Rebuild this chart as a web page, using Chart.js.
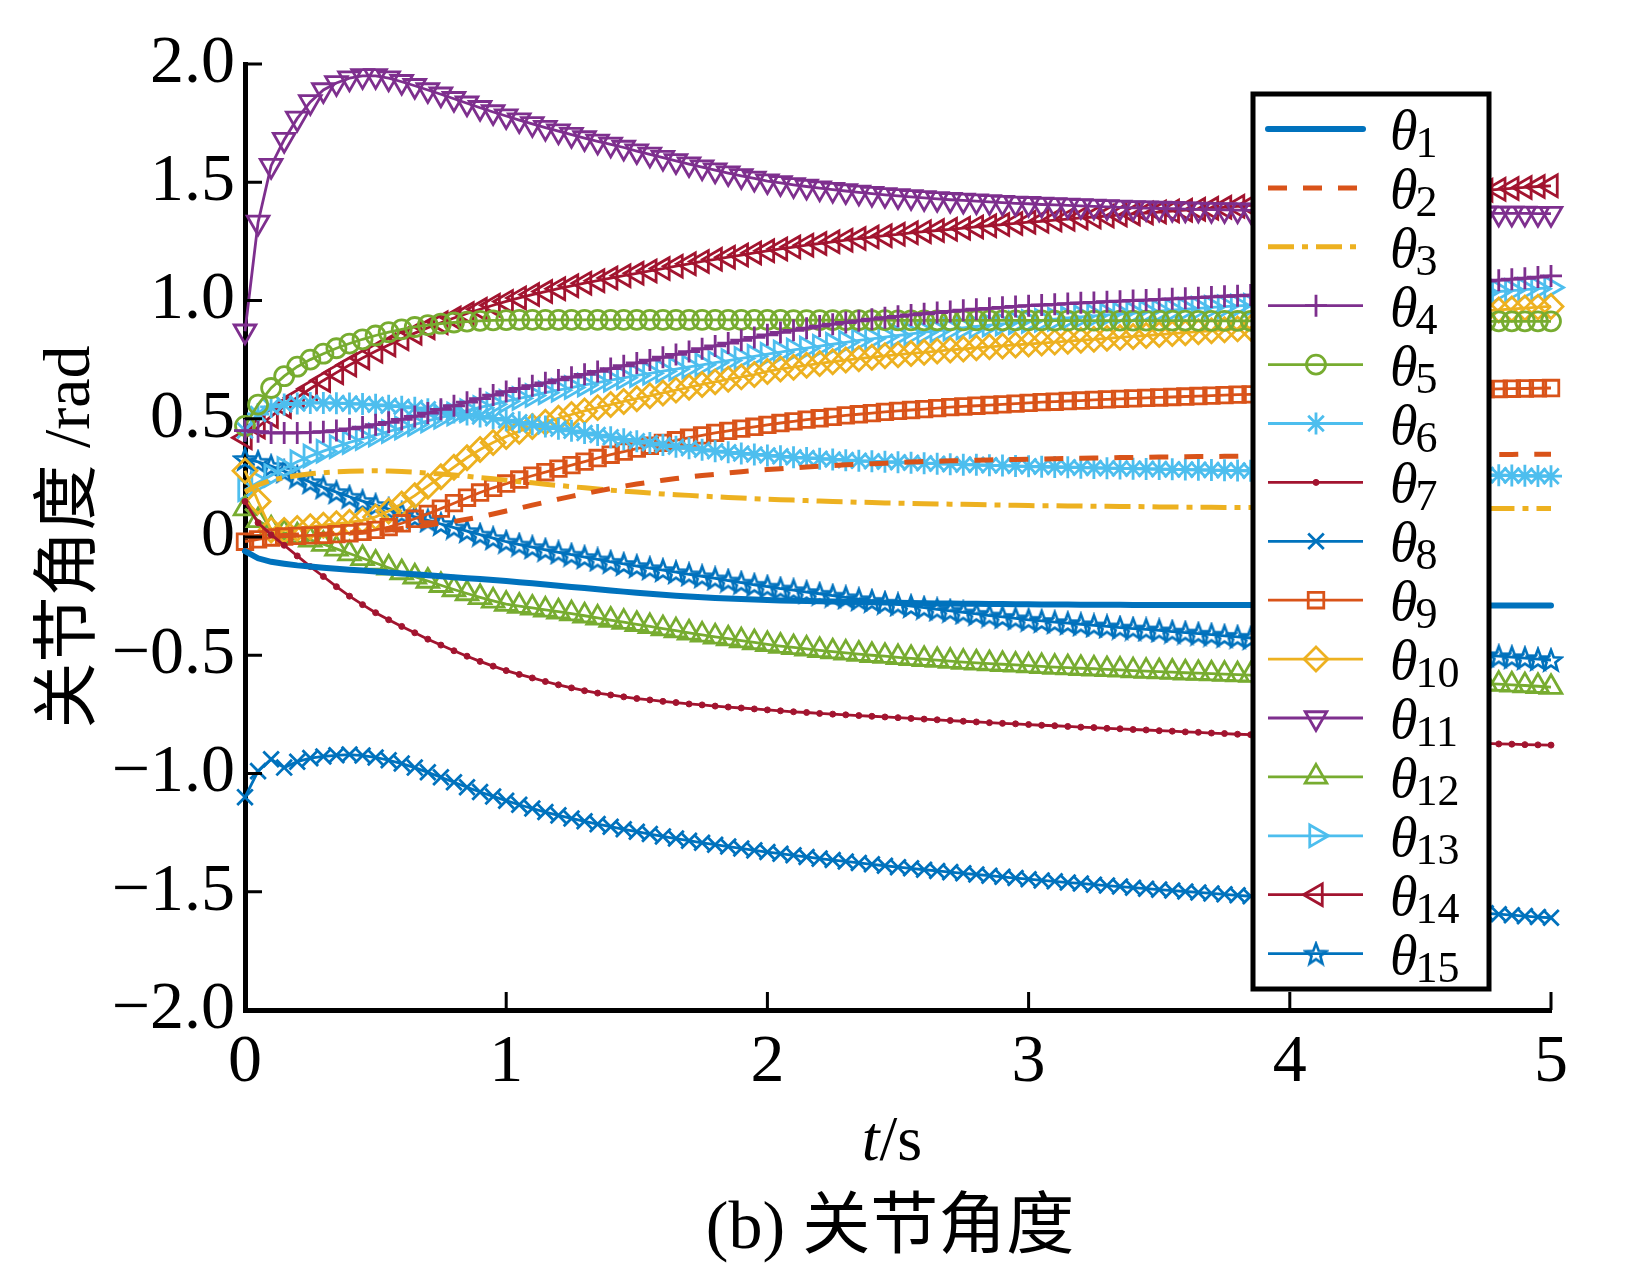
<!DOCTYPE html>
<html>
<head>
<meta charset="utf-8">
<script src="https://cdn.jsdelivr.net/npm/chart.js@4.4.1/dist/chart.umd.min.js"></script>
<style>
  html, body { margin: 0; padding: 0; background: #fff; }
  #wrap { width: 1635px; height: 1276px; }
</style>
</head>
<body>
<div id="wrap"><canvas id="chart" width="1635" height="1276"></canvas></div>
<script>
// time samples (s)
const timeS = [
  0, 0.05, 0.1, 0.15, 0.2, 0.25, 0.3, 0.35, 0.4, 0.45,
  0.5, 0.55, 0.6, 0.65, 0.7, 0.75, 0.8, 0.85, 0.9, 0.95,
  1, 1.05, 1.1, 1.15, 1.2, 1.25, 1.3, 1.35, 1.4, 1.45,
  1.5, 1.55, 1.6, 1.65, 1.7, 1.75, 1.8, 1.85, 1.9, 1.95,
  2, 2.05, 2.1, 2.15, 2.2, 2.25, 2.3, 2.35, 2.4, 2.45,
  2.5, 2.55, 2.6, 2.65, 2.7, 2.75, 2.8, 2.85, 2.9, 2.95,
  3, 3.05, 3.1, 3.15, 3.2, 3.25, 3.3, 3.35, 3.4, 3.45,
  3.5, 3.55, 3.6, 3.65, 3.7, 3.75, 3.8, 3.85, 3.9, 3.95,
  4, 4.05, 4.1, 4.15, 4.2, 4.25, 4.3, 4.35, 4.4, 4.45,
  4.5, 4.55, 4.6, 4.65, 4.7, 4.75, 4.8, 4.85, 4.9, 4.95,
  5
];

// joint angles (rad)
const theta1 = [
  -0.06, -0.09, -0.105, -0.113, -0.12, -0.125, -0.13, -0.134, -0.138, -0.142,
  -0.146, -0.15, -0.154, -0.158, -0.162, -0.166, -0.17, -0.174, -0.178, -0.182,
  -0.186, -0.191, -0.196, -0.201, -0.206, -0.211, -0.216, -0.221, -0.226, -0.231,
  -0.236, -0.24, -0.244, -0.248, -0.252, -0.255, -0.258, -0.26, -0.262, -0.264,
  -0.266, -0.268, -0.27, -0.271, -0.272, -0.273, -0.274, -0.275, -0.276, -0.277,
  -0.278, -0.279, -0.28, -0.281, -0.281, -0.282, -0.282, -0.283, -0.283, -0.284,
  -0.284, -0.285, -0.285, -0.285, -0.286, -0.286, -0.286, -0.286, -0.287, -0.287,
  -0.287, -0.287, -0.287, -0.288, -0.288, -0.288, -0.288, -0.288, -0.288, -0.288,
  -0.288, -0.288, -0.289, -0.289, -0.289, -0.289, -0.289, -0.289, -0.289, -0.289,
  -0.289, -0.289, -0.289, -0.29, -0.29, -0.29, -0.29, -0.29, -0.29, -0.29,
  -0.29
];
const theta2 = [
  0, 0.002, 0.004, 0.006, 0.008, 0.01, 0.012, 0.014, 0.017, 0.02,
  0.025, 0.03, 0.036, 0.043, 0.05, 0.058, 0.066, 0.075, 0.085, 0.097,
  0.11, 0.122, 0.135, 0.147, 0.16, 0.172, 0.183, 0.194, 0.205, 0.215,
  0.224, 0.232, 0.24, 0.247, 0.254, 0.26, 0.265, 0.271, 0.276, 0.281,
  0.285, 0.289, 0.293, 0.296, 0.299, 0.302, 0.305, 0.307, 0.31, 0.312,
  0.315, 0.317, 0.319, 0.32, 0.322, 0.323, 0.325, 0.326, 0.327, 0.328,
  0.329, 0.33, 0.331, 0.332, 0.333, 0.334, 0.335, 0.336, 0.336, 0.337,
  0.338, 0.338, 0.339, 0.34, 0.34, 0.341, 0.341, 0.342, 0.342, 0.343,
  0.343, 0.344, 0.344, 0.345, 0.345, 0.345, 0.346, 0.346, 0.346, 0.347,
  0.347, 0.347, 0.348, 0.348, 0.348, 0.349, 0.349, 0.349, 0.35, 0.35,
  0.35
];
const theta3 = [
  0.19, 0.22, 0.24, 0.251, 0.26, 0.267, 0.272, 0.276, 0.278, 0.279,
  0.28, 0.279, 0.277, 0.274, 0.27, 0.266, 0.262, 0.257, 0.251, 0.246,
  0.24, 0.234, 0.229, 0.223, 0.218, 0.213, 0.208, 0.203, 0.198, 0.194,
  0.19, 0.186, 0.182, 0.179, 0.176, 0.173, 0.17, 0.167, 0.165, 0.162,
  0.16, 0.158, 0.156, 0.154, 0.152, 0.15, 0.149, 0.147, 0.146, 0.144,
  0.143, 0.142, 0.141, 0.14, 0.139, 0.138, 0.137, 0.136, 0.135, 0.134,
  0.133, 0.132, 0.132, 0.131, 0.131, 0.13, 0.13, 0.129, 0.129, 0.128,
  0.127, 0.127, 0.126, 0.126, 0.126, 0.125, 0.125, 0.125, 0.124, 0.124,
  0.123, 0.123, 0.123, 0.123, 0.122, 0.122, 0.122, 0.122, 0.122, 0.121,
  0.121, 0.121, 0.121, 0.121, 0.121, 0.12, 0.12, 0.12, 0.12, 0.12,
  0.12
];
const theta4 = [
  0.45, 0.445, 0.44, 0.44, 0.44, 0.442, 0.445, 0.45, 0.457, 0.465,
  0.475, 0.485, 0.497, 0.51, 0.524, 0.54, 0.555, 0.57, 0.585, 0.6,
  0.615, 0.628, 0.64, 0.652, 0.664, 0.676, 0.688, 0.7, 0.712, 0.724,
  0.736, 0.748, 0.76, 0.772, 0.784, 0.796, 0.808, 0.82, 0.832, 0.844,
  0.855, 0.865, 0.874, 0.883, 0.892, 0.9, 0.907, 0.914, 0.921, 0.927,
  0.933, 0.939, 0.944, 0.949, 0.954, 0.959, 0.963, 0.967, 0.971, 0.975,
  0.978, 0.981, 0.984, 0.987, 0.99, 0.992, 0.995, 0.997, 1.0, 1.002,
  1.005, 1.007, 1.01, 1.012, 1.015, 1.018, 1.02, 1.023, 1.026, 1.028,
  1.031, 1.034, 1.037, 1.04, 1.043, 1.046, 1.049, 1.052, 1.055, 1.058,
  1.062, 1.066, 1.07, 1.074, 1.078, 1.082, 1.086, 1.09, 1.094, 1.099,
  1.104
];
const theta5 = [
  0.47, 0.56, 0.63, 0.68, 0.72, 0.75, 0.775, 0.798, 0.818, 0.836,
  0.852, 0.866, 0.878, 0.888, 0.896, 0.902, 0.907, 0.911, 0.914, 0.916,
  0.917, 0.918, 0.918, 0.918, 0.918, 0.918, 0.918, 0.918, 0.918, 0.918,
  0.918, 0.918, 0.918, 0.918, 0.918, 0.918, 0.918, 0.918, 0.918, 0.918,
  0.918, 0.918, 0.917, 0.917, 0.917, 0.917, 0.917, 0.917, 0.917, 0.917,
  0.916, 0.916, 0.916, 0.916, 0.916, 0.916, 0.916, 0.916, 0.916, 0.916,
  0.916, 0.916, 0.915, 0.915, 0.915, 0.915, 0.915, 0.915, 0.915, 0.915,
  0.915, 0.915, 0.915, 0.914, 0.914, 0.914, 0.914, 0.914, 0.914, 0.914,
  0.914, 0.914, 0.914, 0.913, 0.913, 0.913, 0.913, 0.913, 0.913, 0.913,
  0.913, 0.913, 0.913, 0.913, 0.912, 0.912, 0.912, 0.912, 0.912, 0.912,
  0.912
];
const theta6 = [
  0.45, 0.52, 0.55, 0.56, 0.565, 0.567, 0.567, 0.566, 0.564, 0.562,
  0.559, 0.555, 0.551, 0.546, 0.54, 0.533, 0.526, 0.518, 0.51, 0.502,
  0.494, 0.485, 0.476, 0.467, 0.458, 0.449, 0.44, 0.431, 0.422, 0.413,
  0.405, 0.397, 0.389, 0.382, 0.375, 0.369, 0.363, 0.358, 0.353, 0.349,
  0.345, 0.341, 0.337, 0.334, 0.331, 0.328, 0.325, 0.322, 0.32, 0.318,
  0.316, 0.314, 0.312, 0.31, 0.308, 0.306, 0.305, 0.303, 0.302, 0.3,
  0.299, 0.297, 0.296, 0.295, 0.293, 0.292, 0.291, 0.29, 0.289, 0.288,
  0.287, 0.286, 0.285, 0.284, 0.283, 0.282, 0.281, 0.28, 0.279, 0.278,
  0.277, 0.276, 0.275, 0.274, 0.273, 0.272, 0.271, 0.27, 0.269, 0.268,
  0.267, 0.266, 0.265, 0.264, 0.263, 0.262, 0.261, 0.26, 0.259, 0.258,
  0.257
];
const theta7 = [
  0.15, 0.06, 0.01, -0.035, -0.08, -0.125, -0.167, -0.21, -0.25, -0.286,
  -0.32, -0.35, -0.378, -0.405, -0.432, -0.457, -0.481, -0.504, -0.526, -0.546,
  -0.565, -0.581, -0.596, -0.611, -0.625, -0.638, -0.65, -0.66, -0.668, -0.676,
  -0.683, -0.689, -0.695, -0.7, -0.706, -0.71, -0.715, -0.719, -0.723, -0.727,
  -0.731, -0.735, -0.739, -0.742, -0.746, -0.749, -0.752, -0.755, -0.758, -0.761,
  -0.764, -0.767, -0.77, -0.773, -0.776, -0.779, -0.782, -0.785, -0.788, -0.79,
  -0.793, -0.796, -0.798, -0.801, -0.804, -0.806, -0.809, -0.811, -0.814, -0.816,
  -0.819, -0.821, -0.824, -0.826, -0.829, -0.831, -0.834, -0.836, -0.838, -0.841,
  -0.843, -0.845, -0.848, -0.85, -0.852, -0.854, -0.856, -0.858, -0.86, -0.862,
  -0.864, -0.866, -0.868, -0.87, -0.871, -0.873, -0.875, -0.876, -0.878, -0.879,
  -0.88
];
const theta8 = [
  -1.1, -0.99, -0.94, -0.975, -0.95, -0.935, -0.928, -0.923, -0.92, -0.924,
  -0.932, -0.944, -0.958, -0.975, -0.995, -1.016, -1.037, -1.058, -1.078, -1.097,
  -1.115, -1.132, -1.148, -1.163, -1.177, -1.19, -1.202, -1.214, -1.225, -1.236,
  -1.246, -1.256, -1.266, -1.275, -1.284, -1.293, -1.301, -1.309, -1.317, -1.325,
  -1.332, -1.339, -1.346, -1.353, -1.36, -1.366, -1.372, -1.378, -1.384, -1.39,
  -1.396, -1.401, -1.407, -1.412, -1.417, -1.422, -1.427, -1.432, -1.437, -1.442,
  -1.447, -1.452, -1.456, -1.461, -1.465, -1.47, -1.474, -1.478, -1.483, -1.487,
  -1.491, -1.495, -1.499, -1.503, -1.507, -1.511, -1.515, -1.519, -1.523, -1.527,
  -1.531, -1.535, -1.539, -1.543, -1.547, -1.551, -1.555, -1.559, -1.563, -1.567,
  -1.571, -1.575, -1.579, -1.583, -1.587, -1.591, -1.595, -1.599, -1.603, -1.607,
  -1.61
];
const theta9 = [
  -0.02, -0.01, -0.002, 0.002, 0.005, 0.007, 0.009, 0.012, 0.016, 0.022,
  0.03, 0.042, 0.058, 0.077, 0.098, 0.12, 0.143, 0.166, 0.188, 0.208,
  0.226, 0.243, 0.259, 0.274, 0.289, 0.304, 0.319, 0.334, 0.348, 0.361,
  0.374, 0.386, 0.398, 0.409, 0.42, 0.43, 0.44, 0.449, 0.458, 0.466,
  0.474, 0.482, 0.489, 0.496, 0.502, 0.508, 0.514, 0.519, 0.524, 0.529,
  0.533, 0.537, 0.541, 0.545, 0.549, 0.552, 0.555, 0.558, 0.561, 0.564,
  0.567, 0.57, 0.572, 0.575, 0.577, 0.58, 0.582, 0.584, 0.586, 0.588,
  0.59, 0.592, 0.594, 0.596, 0.598, 0.6, 0.602, 0.603, 0.605, 0.607,
  0.608, 0.61, 0.611, 0.612, 0.614, 0.615, 0.616, 0.617, 0.618, 0.619,
  0.62, 0.621, 0.622, 0.623, 0.624, 0.625, 0.626, 0.627, 0.628, 0.629,
  0.63
];
const theta10 = [
  0.28, 0.15, 0.03, 0.028, 0.036, 0.043, 0.05, 0.056, 0.062, 0.07,
  0.085, 0.11, 0.14, 0.175, 0.215, 0.255, 0.295, 0.335, 0.37, 0.4,
  0.425, 0.447, 0.467, 0.485, 0.502, 0.518, 0.533, 0.547, 0.56, 0.573,
  0.585, 0.597, 0.609, 0.621, 0.633, 0.645, 0.656, 0.667, 0.677, 0.687,
  0.7, 0.71, 0.718, 0.726, 0.734, 0.741, 0.748, 0.754, 0.76, 0.766,
  0.771, 0.776, 0.781, 0.786, 0.791, 0.795, 0.8, 0.804, 0.808, 0.812,
  0.816, 0.82, 0.824, 0.828, 0.832, 0.836, 0.84, 0.844, 0.848, 0.852,
  0.856, 0.86, 0.864, 0.868, 0.872, 0.876, 0.88, 0.884, 0.888, 0.892,
  0.896, 0.9, 0.904, 0.908, 0.912, 0.916, 0.92, 0.924, 0.928, 0.932,
  0.936, 0.94, 0.944, 0.948, 0.952, 0.956, 0.96, 0.964, 0.968, 0.972,
  0.975
];
const theta11 = [
  0.87, 1.33, 1.57, 1.68, 1.77, 1.84, 1.89, 1.92, 1.94, 1.95,
  1.95, 1.94, 1.925, 1.908, 1.89, 1.872, 1.853, 1.834, 1.815, 1.797,
  1.78, 1.763, 1.747, 1.731, 1.716, 1.701, 1.687, 1.673, 1.66, 1.647,
  1.632, 1.618, 1.604, 1.59, 1.577, 1.564, 1.551, 1.539, 1.527, 1.516,
  1.505, 1.497, 1.489, 1.482, 1.475, 1.469, 1.463, 1.457, 1.452, 1.447,
  1.442, 1.438, 1.434, 1.43, 1.426, 1.423, 1.42, 1.417, 1.414, 1.411,
  1.409, 1.406, 1.404, 1.402, 1.4, 1.398, 1.396, 1.394, 1.392, 1.391,
  1.389, 1.388, 1.386, 1.385, 1.384, 1.383, 1.382, 1.381, 1.38, 1.379,
  1.378, 1.377, 1.376, 1.376, 1.375, 1.374, 1.374, 1.373, 1.372, 1.372,
  1.371, 1.371, 1.37, 1.37, 1.369, 1.369, 1.368, 1.368, 1.368, 1.367,
  1.367
];
const theta12 = [
  0.12, 0.07, 0.035, 0.018, 0.005, -0.012, -0.03, -0.05, -0.07, -0.09,
  -0.11, -0.13, -0.15, -0.168, -0.186, -0.204, -0.222, -0.239, -0.255, -0.27,
  -0.284, -0.292, -0.3, -0.308, -0.316, -0.324, -0.333, -0.342, -0.351, -0.36,
  -0.369, -0.378, -0.387, -0.396, -0.405, -0.414, -0.422, -0.43, -0.438, -0.446,
  -0.454, -0.461, -0.467, -0.473, -0.479, -0.485, -0.49, -0.495, -0.5, -0.504,
  -0.509, -0.513, -0.517, -0.521, -0.525, -0.529, -0.532, -0.535, -0.538, -0.541,
  -0.544, -0.547, -0.55, -0.552, -0.555, -0.557, -0.56, -0.562, -0.565, -0.567,
  -0.569, -0.571, -0.574, -0.576, -0.578, -0.58, -0.582, -0.584, -0.586, -0.588,
  -0.59, -0.592, -0.594, -0.596, -0.598, -0.6, -0.602, -0.604, -0.606, -0.608,
  -0.61, -0.612, -0.614, -0.616, -0.618, -0.62, -0.622, -0.625, -0.628, -0.631,
  -0.635
];
const theta13 = [
  0.2, 0.23, 0.26, 0.29, 0.318, 0.342, 0.363, 0.382, 0.4, 0.416,
  0.431, 0.446, 0.461, 0.476, 0.491, 0.506, 0.52, 0.534, 0.548, 0.561,
  0.574, 0.586, 0.598, 0.61, 0.621, 0.632, 0.643, 0.653, 0.663, 0.673,
  0.683, 0.692, 0.701, 0.71, 0.719, 0.728, 0.737, 0.746, 0.755, 0.764,
  0.773, 0.782, 0.791, 0.799, 0.807, 0.815, 0.823, 0.831, 0.838, 0.845,
  0.852, 0.859, 0.866, 0.872, 0.878, 0.884, 0.89, 0.896, 0.901, 0.906,
  0.911, 0.916, 0.921, 0.926, 0.931, 0.935, 0.939, 0.943, 0.947, 0.951,
  0.955, 0.959, 0.963, 0.967, 0.971, 0.974, 0.977, 0.98, 0.983, 0.986,
  0.989, 0.992, 0.995, 0.998, 1.001, 1.004, 1.007, 1.01, 1.013, 1.016,
  1.019, 1.022, 1.025, 1.028, 1.031, 1.034, 1.038, 1.042, 1.046, 1.05,
  1.055
];
const theta14 = [
  0.42, 0.465, 0.51, 0.552, 0.59, 0.627, 0.662, 0.695, 0.727, 0.757,
  0.785, 0.812, 0.838, 0.862, 0.885, 0.906, 0.926, 0.945, 0.963, 0.98,
  0.996, 1.011, 1.025, 1.038, 1.05, 1.062, 1.073, 1.084, 1.095, 1.105,
  1.115, 1.125, 1.135, 1.145, 1.155, 1.165, 1.174, 1.183, 1.192, 1.201,
  1.21, 1.218, 1.226, 1.234, 1.241, 1.248, 1.255, 1.262, 1.268, 1.274,
  1.28, 1.286, 1.291, 1.296, 1.301, 1.306, 1.311, 1.316, 1.321, 1.326,
  1.331, 1.335, 1.34, 1.344, 1.349, 1.353, 1.357, 1.362, 1.366, 1.37,
  1.374, 1.378, 1.382, 1.386, 1.39, 1.394, 1.398, 1.402, 1.406, 1.41,
  1.413, 1.417, 1.421, 1.424, 1.428, 1.431, 1.435, 1.438, 1.442, 1.445,
  1.449, 1.452, 1.456, 1.459, 1.463, 1.466, 1.47, 1.474, 1.478, 1.482,
  1.485
];
const theta15 = [
  0.33, 0.318, 0.3, 0.278, 0.255, 0.232, 0.21, 0.19, 0.17, 0.152,
  0.135, 0.118, 0.1, 0.085, 0.07, 0.055, 0.04, 0.025, 0.01, -0.005,
  -0.02, -0.032, -0.043, -0.054, -0.065, -0.075, -0.085, -0.095, -0.105, -0.114,
  -0.123, -0.132, -0.14, -0.149, -0.158, -0.166, -0.175, -0.184, -0.193, -0.202,
  -0.21, -0.218, -0.225, -0.233, -0.24, -0.248, -0.255, -0.263, -0.27, -0.278,
  -0.285, -0.292, -0.299, -0.306, -0.312, -0.319, -0.325, -0.332, -0.338, -0.344,
  -0.35, -0.355, -0.36, -0.364, -0.369, -0.374, -0.378, -0.383, -0.387, -0.391,
  -0.395, -0.4, -0.404, -0.409, -0.413, -0.418, -0.422, -0.427, -0.431, -0.436,
  -0.44, -0.444, -0.448, -0.452, -0.456, -0.46, -0.464, -0.468, -0.472, -0.476,
  -0.48, -0.484, -0.488, -0.492, -0.496, -0.5, -0.504, -0.508, -0.512, -0.516,
  -0.52
];

const xTicks = [0, 1, 2, 3, 4, 5];
const yTicks = [-2, -1.5, -1, -0.5, 0, 0.5, 1, 1.5, 2];

const SERIF = "'Liberation Serif', 'Times New Roman', serif";
const CJK = "'Liberation Serif', 'Noto Sans CJK SC', serif";

// matlab default palette
const C_BLUE = '#0072BD', C_ORANGE = '#D95319', C_YELLOW = '#EDB120', C_PURPLE = '#7E2F8E',
      C_GREEN = '#77AC30', C_CYAN = '#4DBEEE', C_RED = '#A2142F';

// pentagram marker for theta15 (not a builtin chart.js style)
function starImage(color) {
  const c = document.createElement('canvas');
  c.width = 26; c.height = 26;
  const g = c.getContext('2d');
  g.strokeStyle = color;
  g.lineWidth = 2.6;
  g.lineJoin = 'miter';
  g.beginPath();
  for (let k = 0; k < 10; k++) {
    const r = k % 2 === 0 ? 11 : 4.6;
    const a = -Math.PI / 2 + k * Math.PI / 5;
    const px = 13 + r * Math.cos(a), py = 14 + r * Math.sin(a);
    if (k === 0) g.moveTo(px, py); else g.lineTo(px, py);
  }
  g.closePath();
  g.stroke();
  return c;
}

function series(label, values, color, opt) {
  return Object.assign({
    label: label,
    data: values.map((v, i) => ({x: timeS[i], y: v})),
    borderColor: color,
    backgroundColor: 'transparent',
    pointBorderColor: color,
    pointBackgroundColor: 'transparent',
    borderWidth: 2.8,
    pointBorderWidth: 2.8,
    pointRadius: 0,
    pointStyle: 'circle',
    pointRotation: 0,
    tension: 0,
    clip: false
  }, opt);
}

const datasets = [
  series('1', theta1, C_BLUE, {borderWidth: 6, borderCapStyle: 'round'}),
  series('2', theta2, C_ORANGE, {borderWidth: 5, borderDash: [19, 16]}),
  series('3', theta3, C_YELLOW, {borderWidth: 5, borderDash: [26, 8, 6, 8]}),
  series('4', theta4, C_PURPLE, {pointStyle: 'cross', pointRadius: 11}),
  series('5', theta5, C_GREEN, {pointStyle: 'circle', pointRadius: 9.5}),
  series('6', theta6, C_CYAN, {pointStyle: 'star', pointRadius: 11}),
  series('7', theta7, C_RED, {pointStyle: 'circle', pointRadius: 3, pointBackgroundColor: C_RED, pointBorderWidth: 1}),
  series('8', theta8, C_BLUE, {pointStyle: 'crossRot', pointRadius: 11}),
  series('9', theta9, C_ORANGE, {pointStyle: 'rect', pointRadius: 11}),
  series('10', theta10, C_YELLOW, {pointStyle: 'rectRot', pointRadius: 12}),
  series('11', theta11, C_PURPLE, {pointStyle: 'triangle', pointRadius: 12.5, pointRotation: 180}),
  series('12', theta12, C_GREEN, {pointStyle: 'triangle', pointRadius: 12.5}),
  series('13', theta13, C_CYAN, {pointStyle: 'triangle', pointRadius: 12.5, pointRotation: 90}),
  series('14', theta14, C_RED, {pointStyle: 'triangle', pointRadius: 12.5, pointRotation: -90}),
  series('15', theta15, C_BLUE, {pointStyle: starImage(C_BLUE), pointRadius: 10})
];

// inward tick marks on the left and bottom axes
const innerTicks = {
  id: 'innerTicks',
  afterDatasetsDraw(chart) {
    const ctx = chart.ctx, xs = chart.scales.x, ys = chart.scales.y;
    const area = chart.chartArea;
    ctx.save();
    ctx.strokeStyle = '#000';
    ctx.lineWidth = 3;
    ctx.beginPath();
    yTicks.forEach(v => {
      const py = ys.getPixelForValue(v);
      ctx.moveTo(area.left, py);
      ctx.lineTo(area.left + 17, py);
    });
    xTicks.forEach(v => {
      const px = xs.getPixelForValue(v);
      ctx.moveTo(px, area.bottom);
      ctx.lineTo(px, area.bottom - 18);
    });
    ctx.stroke();
    ctx.restore();
  }
};

// boxed legend drawn inside the plot, over the lines
const boxLegend = {
  id: 'boxLegend',
  afterDatasetsDraw(chart) {
    const ctx = chart.ctx;
    const box = {left: 1253, top: 94, right: 1489, bottom: 989};
    const rowTop = 129, rowStep = 58.9;
    ctx.save();
    ctx.fillStyle = '#fff';
    ctx.fillRect(box.left, box.top, box.right - box.left, box.bottom - box.top);
    ctx.lineWidth = 5;
    ctx.strokeStyle = '#000';
    ctx.strokeRect(box.left, box.top, box.right - box.left, box.bottom - box.top);

    chart.data.datasets.forEach((ds, i) => {
      const y = rowTop + i * rowStep;
      ctx.save();
      ctx.strokeStyle = ds.borderColor;
      ctx.lineWidth = ds.borderWidth;
      ctx.lineCap = ds.borderCapStyle || 'butt';
      ctx.setLineDash(ds.borderDash || []);
      ctx.beginPath();
      ctx.moveTo(1268, y);
      ctx.lineTo(1363, y);
      ctx.stroke();
      ctx.setLineDash([]);
      if (ds.pointRadius > 0) {
        ctx.strokeStyle = ds.pointBorderColor;
        ctx.fillStyle = ds.pointBackgroundColor;
        ctx.lineWidth = ds.pointBorderWidth;
        Chart.helpers.drawPoint(ctx, {
          pointStyle: ds.pointStyle,
          rotation: ds.pointRotation,
          radius: ds.pointRadius,
          borderWidth: ds.pointBorderWidth
        }, 1316, y);
      }
      ctx.restore();

      ctx.fillStyle = '#000';
      ctx.textBaseline = 'alphabetic';
      ctx.textAlign = 'left';
      ctx.font = 'italic 56px ' + SERIF;
      ctx.fillText('\u03B8', 1390, y + 20);
      const w = ctx.measureText('\u03B8').width;
      ctx.font = '44px ' + SERIF;
      ctx.fillText(ds.label, 1390 + w - 2, y + 28);
    });
    ctx.restore();
  }
};

// x-axis title with italic t, and the figure caption
const captions = {
  id: 'captions',
  afterDraw(chart) {
    const ctx = chart.ctx;
    ctx.save();
    ctx.fillStyle = '#000';
    ctx.textBaseline = 'alphabetic';
    ctx.textAlign = 'left';
    ctx.font = 'italic 64px ' + SERIF;
    const wt = ctx.measureText('t').width;
    ctx.font = '64px ' + SERIF;
    const ws = ctx.measureText('/s').width;
    let x0 = 892 - (wt + ws) / 2;
    ctx.font = 'italic 64px ' + SERIF;
    ctx.fillText('t', x0, 1160);
    ctx.font = '64px ' + SERIF;
    ctx.fillText('/s', x0 + wt, 1160);

    ctx.font = '68px ' + CJK;
    ctx.textAlign = 'center';
    ctx.fillText('(b) \u5173\u8282\u89d2\u5ea6', 890, 1248);
    ctx.restore();
  }
};

const fmt = v => (v === 0 ? '0' : (v < 0 ? '\u2212' : '') + Math.abs(v).toFixed(1));

new Chart(document.getElementById('chart'), {
  type: 'line',
  data: {datasets: datasets},
  options: {
    responsive: false,
    animation: false,
    devicePixelRatio: 1,
    layout: {padding: {left: 0, top: 64, right: 84, bottom: 0}},
    plugins: {legend: {display: false}, tooltip: {enabled: false}},
    scales: {
      x: {
        type: 'linear', min: 0, max: 5,
        afterFit(s) { s.height = 266; },
        afterBuildTicks(s) { s.ticks = xTicks.map(v => ({value: v})); },
        grid: {display: false, drawTicks: false},
        border: {display: true, width: 5, color: '#000'},
        ticks: {color: '#000', font: {family: SERIF, size: 68}, padding: 12, maxRotation: 0,
                callback: v => String(v)}
      },
      y: {
        type: 'linear', min: -2, max: 2,
        afterFit(s) { s.width = 245; },
        afterBuildTicks(s) { s.ticks = yTicks.map(v => ({value: v})); },
        grid: {display: false, drawTicks: false},
        border: {display: true, width: 5, color: '#000'},
        ticks: {color: '#000', font: {family: SERIF, size: 68}, padding: 10, callback: v => fmt(v)},
        title: {display: true, text: '\u5173\u8282\u89d2\u5ea6 /rad', color: '#000',
                font: {family: CJK, size: 66}, padding: {top: 32, bottom: 0}}
      }
    }
  },
  plugins: [innerTicks, boxLegend, captions]
});
</script>
</body>
</html>
